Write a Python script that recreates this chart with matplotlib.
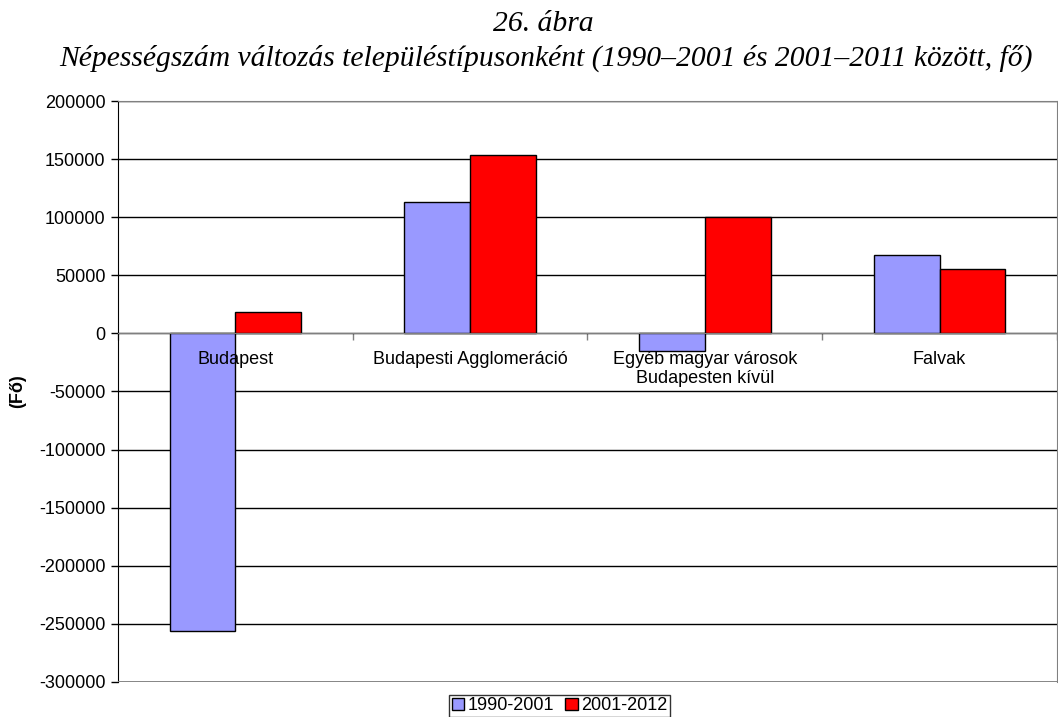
import matplotlib.pyplot as plt
import numpy as np

# data
categories = ["Budapest", "Budapesti Agglomeráció",
              "Egyéb magyar városok\nBudapesten kívül", "Falvak"]
series_names = ["1990-2001", "2001-2012"]
change_1990_2001 = [-256000, 113200, -14900, 67800]
change_2001_2012 = [18700, 153200, 100300, 55400]
yticks = np.arange(-300000, 200001, 50000)

plt.rcParams['font.family'] = ['Liberation Sans', 'DejaVu Sans']

fig = plt.figure(figsize=(10.58, 7.17), dpi=100)
ax = fig.add_axes([0.1115, 0.049, 0.8875, 0.810])

x = np.arange(len(categories))
w = 0.28
ax.bar(x - w / 2, change_1990_2001, w, color='#9999ff', edgecolor='black',
       linewidth=1, label=series_names[0], zorder=3)
ax.bar(x + w / 2, change_2001_2012, w, color='#ff0000', edgecolor='black',
       linewidth=1, label=series_names[1], zorder=3)

ax.set_xlim(-0.5, len(categories) - 0.5)
ax.set_ylim(yticks[0], yticks[-1])
ax.set_yticks(yticks)
ax.set_yticklabels([str(v) for v in yticks], fontsize=13)
ax.yaxis.grid(True, color='black', linewidth=1, zorder=0)
ax.tick_params(axis='y', length=5, width=1, pad=4)

# category axis crosses at zero, labels drawn just below it
ax.spines['bottom'].set_position(('data', 0))
ax.spines['bottom'].set_color('#808080')
ax.spines['bottom'].set_zorder(4)
ax.set_xticks(np.arange(len(categories) + 1) - 0.5)
ax.set_xticklabels([])
ax.tick_params(axis='x', length=5, width=1, color='#808080', direction='out')
for i, lab in enumerate(categories):
    ax.annotate(lab, xy=(i, 0), xytext=(0, -13), textcoords='offset points',
                ha='center', va='top', fontsize=13, zorder=6,
                linespacing=1.15)

ax.spines['top'].set_color('#808080')
ax.spines['right'].set_color('#808080')
ax.spines['left'].set_color('black')
ax.axhline(yticks[0], color='#808080', linewidth=2, zorder=4)

ax.set_ylabel('(Fő)', fontsize=13, fontweight='bold', labelpad=9)

fig.text(0.514, 0.967, '26. ábra', ha='center', va='center', fontsize=21.3,
         style='italic', family='Liberation Serif')
fig.text(0.516, 0.918,
         'Népességszám változás településtípusonként (1990–2001 és 2001–2011 között, fő)',
         ha='center', va='center', fontsize=21.3, style='italic',
         family='Liberation Serif')

leg = ax.legend(loc='upper center', ncol=2, fontsize=13,
                frameon=True, fancybox=False, edgecolor='black',
                handlelength=0.7, handleheight=0.7, handletextpad=0.2,
                columnspacing=0.6, borderpad=0.15, borderaxespad=0)
leg.get_frame().set_linewidth(1)
leg.set_bbox_to_anchor((0.529, 0.031), transform=fig.transFigure)

fig.savefig('out.png', dpi=100)
